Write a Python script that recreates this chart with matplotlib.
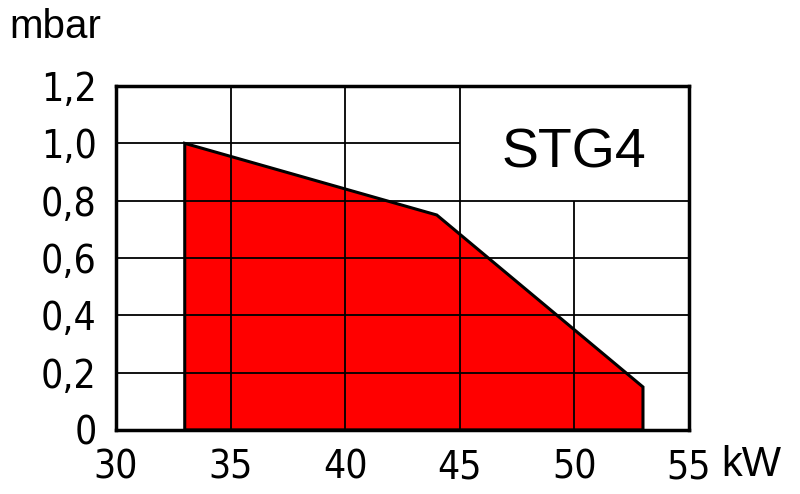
import matplotlib
matplotlib.use("Agg")
import matplotlib.pyplot as plt

# operating range of the burner (kW, mbar)
power_kw = [33, 33, 44, 53, 53]
pressure_mbar = [0, 1.0, 0.75, 0.15, 0]

x_ticks = [30, 35, 40, 45, 50, 55]
y_ticks = [0, 0.2, 0.4, 0.6, 0.8, 1.0, 1.2]
y_labels = ["0", "0,2", "0,4", "0,6", "0,8", "1,0", "1,2"]

model = "STG4"
label_box = (45, 55, 0.8, 1.2)  # x0, x1, y0, y1

fig = plt.figure(figsize=(8, 4.94), dpi=100)
ax = fig.add_axes([0.145, 0.1296, 0.716, 0.6963])

ax.fill(power_kw, pressure_mbar, facecolor="#ff0000", edgecolor="black",
        linewidth=2.2, zorder=1, joinstyle="miter")

# grid, leaving the label box free
bx0, bx1, by0, by1 = label_box
for xv in x_ticks[1:-1]:
    top = by0 if bx0 < xv < bx1 else y_ticks[-1]
    ax.vlines(xv, y_ticks[0], top, color="black", linewidth=1.3, zorder=2)
for yv in y_ticks[1:-1]:
    right = bx0 if by0 < yv < by1 else x_ticks[-1]
    ax.hlines(yv, x_ticks[0], right, color="black", linewidth=1.3, zorder=2)

ax.text((bx0 + bx1) / 2, (by0 + by1) / 2 - 0.034, model, fontsize=40,
        family=["Liberation Sans", "DejaVu Sans"], ha="center", va="center")

ax.set_xlim(x_ticks[0], x_ticks[-1])
ax.set_ylim(y_ticks[0], y_ticks[-1])
ax.set_xticks(x_ticks)
ax.set_yticks(y_ticks)
ax.set_xticklabels([str(v) for v in x_ticks])
ax.set_yticklabels(y_labels)
for lab in ax.get_xticklabels() + ax.get_yticklabels():
    lab.set_family("DejaVu Sans")
    lab.set_stretch("condensed")
    lab.set_weight("light")
    lab.set_fontsize(28)
ax.tick_params(axis="y", length=0, pad=14)
ax.tick_params(axis="x", length=0, pad=13)
for sp in ax.spines.values():
    sp.set_linewidth(2.5)

fig.text(0.012, 0.945, "mbar", fontsize=29, family=["Liberation Sans", "DejaVu Sans"],
         va="center", ha="left")
fig.text(0.902, 0.058, "kW", fontsize=30, family=["Liberation Sans", "DejaVu Sans"],
         va="center", ha="left")

fig.savefig("out.png", dpi=100)
